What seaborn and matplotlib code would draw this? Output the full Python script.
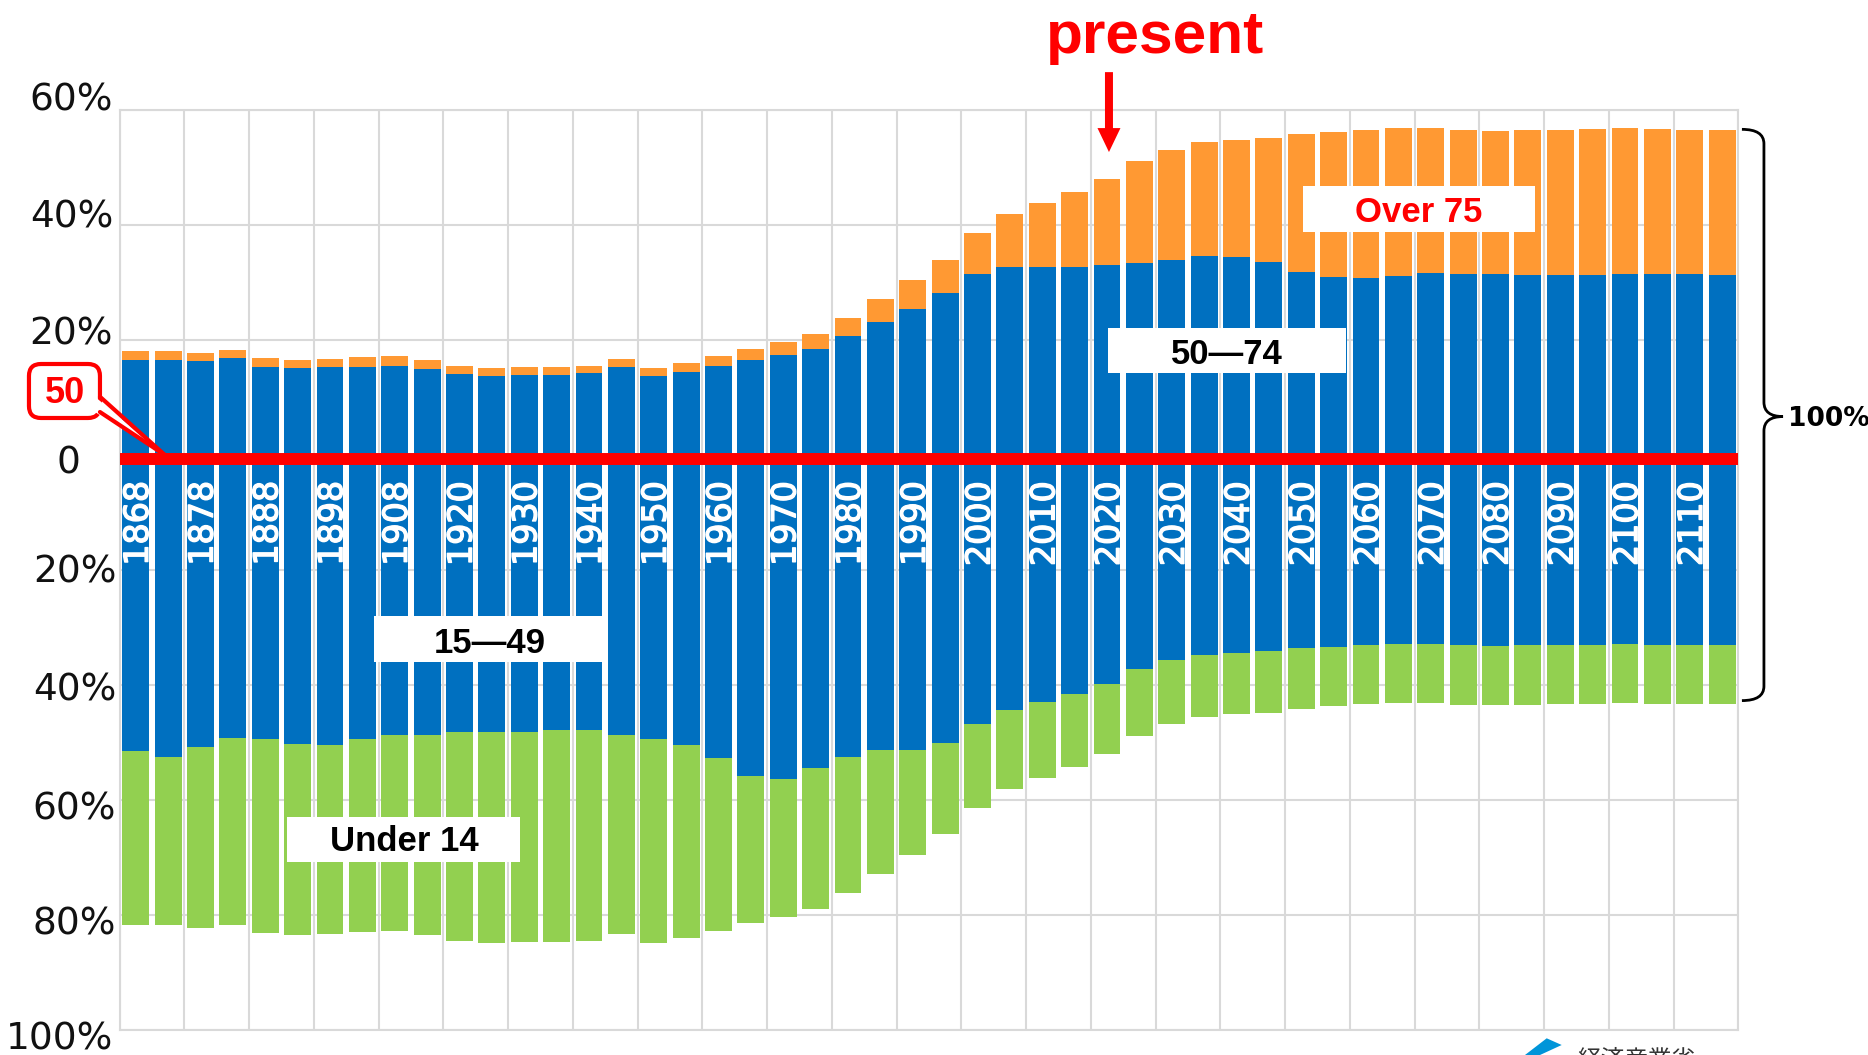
import numpy as np
import pandas as pd
import matplotlib
matplotlib.use("Agg")
import matplotlib.pyplot as plt
import matplotlib.transforms as mtransforms
import matplotlib.patheffects as pe
from matplotlib.patches import FancyBboxPatch, Polygon, Rectangle, PathPatch, FancyArrow
from matplotlib.path import Path
from matplotlib.lines import Line2D
import seaborn as sns

# ---------------- data (percent of population) ----------------
years = [1868, 1873, 1878, 1883, 1888, 1893, 1898, 1903, 1908, 1913,
         1920, 1925, 1930, 1935, 1940, 1945, 1950, 1955, 1960, 1965,
         1970, 1975, 1980, 1985, 1990, 1995, 2000, 2005, 2010, 2015,
         2020, 2025, 2030, 2035, 2040, 2045, 2050, 2055, 2060, 2065,
         2070, 2075, 2080, 2085, 2090, 2095, 2100, 2105, 2110, 2115]

age_50_74 = [16.5, 16.4, 16.2, 16.7, 15.2, 15.1, 15.2, 15.3, 15.4, 14.8,
             14.0, 13.6, 13.8, 13.8, 14.1, 15.2, 13.7, 14.4, 15.4, 16.4,
             17.3, 18.4, 20.6, 23.1, 25.3, 28.1, 31.4, 32.6, 32.6, 32.6,
             32.9, 33.3, 33.9, 34.5, 34.4, 33.5, 31.8, 30.9, 30.7, 31.1,
             31.6, 31.4, 31.4, 31.2, 31.2, 31.2, 31.4, 31.4, 31.4, 31.2]

age_over_75 = [1.5, 1.6, 1.5, 1.5, 1.5, 1.4, 1.4, 1.6, 1.7, 1.6,
               1.4, 1.5, 1.4, 1.4, 1.3, 1.4, 1.3, 1.5, 1.7, 2.0,
               2.2, 2.6, 3.1, 3.9, 5.0, 5.8, 7.1, 9.2, 11.1, 13.0,
               15.0, 17.8, 19.1, 19.8, 20.3, 21.6, 23.9, 25.2, 25.8, 25.6,
               25.1, 25.0, 24.8, 25.2, 25.3, 25.4, 25.4, 25.2, 25.1, 25.3]

age_15_49 = [51.5, 52.6, 50.9, 49.3, 49.5, 50.4, 50.5, 49.5, 48.7, 48.7,
             48.2, 48.3, 48.2, 47.9, 47.9, 48.8, 49.5, 50.6, 52.8, 55.9,
             56.4, 54.6, 52.6, 51.4, 51.4, 50.1, 46.9, 44.4, 43.1, 41.7,
             39.9, 37.3, 35.8, 34.9, 34.5, 34.2, 33.7, 33.4, 33.2, 33.0,
             33.0, 33.2, 33.3, 33.2, 33.2, 33.1, 33.0, 33.1, 33.1, 33.1]

age_under_14 = [30.4, 29.3, 31.4, 32.5, 33.8, 33.1, 32.9, 33.6, 34.2, 34.9,
                36.4, 36.6, 36.6, 36.9, 36.7, 34.6, 35.5, 33.4, 30.0, 25.6,
                24.1, 24.4, 23.6, 21.5, 18.3, 15.9, 14.5, 13.8, 13.2, 12.6,
                12.1, 11.6, 11.0, 10.8, 10.7, 10.8, 10.6, 10.4, 10.2, 10.2,
                10.3, 10.3, 10.3, 10.3, 10.2, 10.3, 10.3, 10.3, 10.3, 10.3]

year_labels = ["1868", "1878", "1888", "1898", "1908", "1920", "1930", "1940",
               "1950", "1960", "1970", "1980", "1990", "2000", "2010", "2020",
               "2030", "2040", "2050", "2060", "2070", "2080", "2090", "2100",
               "2110"]

y_gridlines = [60, 40, 20, 0, -20, -40, -60, -80, -100]
y_tick_labels = ["60%", "40%", "20%", "0", "20%", "40%", "60%", "80%", "100%"]
y_label_baselines = [59.9, 39.4, 19.1, -3.25, -22.2, -42.8, -63.4, -83.5, -103.5]
y_label_right = [-0.004, -0.004, -0.004, -0.0245, -0.002, -0.002, -0.002, -0.002, -0.004]

C_ORANGE = "#FF9933"
C_BLUE = "#0070C0"
C_GREEN = "#92D050"
C_GRID = "#D9D9D9"

# ---------------- frame ----------------
sns.set_theme(style="white")
plt.rcParams["font.family"] = ["DejaVu Sans"]
BOLD = ["Liberation Sans", "DejaVu Sans"]

fig = plt.figure(figsize=(18.68, 10.55), dpi=100)
ax = fig.add_axes([0.0640, 0.02417, 0.8666, 0.87203])

df = pd.DataFrame({
    "year": [str(y) for y in years],
    "a50_74": age_50_74,
    "over75": age_over_75,
    "a15_49": age_15_49,
    "under14": age_under_14,
})
df["above_total"] = df["a50_74"] + df["over75"]
df["below_total"] = -(df["a15_49"] + df["under14"])
df["below_blue"] = -df["a15_49"]
order = df["year"].tolist()

common = dict(data=df, x="year", order=order, width=0.83, saturation=1,
              errorbar=None, linewidth=0, ax=ax)
sns.barplot(y="above_total", color=C_ORANGE, **common)
sns.barplot(y="a50_74", color=C_BLUE, **common)
sns.barplot(y="below_total", color=C_GREEN, **common)
sns.barplot(y="below_blue", color=C_BLUE, **common)

ax.set_xlim(-0.5, len(years) - 0.5)
ax.set_ylim(-100, 60)
ax.set_xlabel("")
ax.set_ylabel("")
ax.set_xticks(np.arange(-0.5, len(years), 2))
ax.set_xticklabels([])
ax.set_yticks(y_gridlines)
ax.set_yticklabels([])
ax.tick_params(length=0)
ax.grid(True, color=C_GRID, lw=1.5)
ax.set_axisbelow(True)
for sp in ax.spines.values():
    sp.set_color(C_GRID)
    sp.set_linewidth(1.5)

# y labels
blend = mtransforms.blended_transform_factory(ax.transAxes, ax.transData)
for lab, yb, xr in zip(y_tick_labels, y_label_baselines, y_label_right):
    ax.text(xr, yb, lab, transform=blend, ha="right", va="baseline",
            fontsize=27, color="#111111", clip_on=False)

# red zero line
ax.axhline(-0.8, color="#FF0000", lw=8.6, zorder=4)

# year labels inside bars
for lab in year_labels:
    i = order.index(lab)
    ax.text(i + 0.375, -4.6, lab, rotation=90, rotation_mode="anchor",
            ha="right", va="baseline", color="white", fontsize=24, zorder=5,
            path_effects=[pe.withStroke(linewidth=1.0, foreground="white")])

# category boxes
boxes = [
    ((36.05, 38.7), 7.16, 8.0, "Over 75", 39.63, 40.43, "#FF0000"),
    ((30.02, 14.19), 7.35, 7.88, "50\u201474", 33.70, 15.74, "black"),
    ((7.36, -36.02), 7.07, 7.93, "15\u201449", 10.94, -34.47, "black"),
    ((4.67, -70.8), 7.21, 7.8, "Under 14", 8.28, -69.04, "black"),
]
for (xy, w, h, txt, tx, ty, col) in boxes:
    ax.add_patch(Rectangle(xy, w, h, facecolor="white", edgecolor="none", zorder=6))
    ax.text(tx, ty, txt, ha="center", va="baseline", fontsize=25,
            fontweight="bold", family=BOLD, color=col, zorder=7)

# "present" and arrow
ax.text(28.12, 69.8, "present", ha="left", va="baseline", color="#FF0000",
        fontsize=43.5, fontweight="bold", family=BOLD, clip_on=False, zorder=8)
ax.add_patch(FancyArrow(30.06, 66.5, 0, -(66.5 - 52.6), width=0.247,
                        head_width=0.71, head_length=4.17,
                        length_includes_head=True, color="#FF0000", lw=0,
                        clip_on=False, zorder=8))

# "50" callout
ax.add_patch(FancyBboxPatch((-3.298, 6.35), 2.193, 9.39,
                            boxstyle="round,pad=0,rounding_size=0.37",
                            mutation_aspect=32.38 / 5.75,
                            facecolor="white", edgecolor="#FF0000", lw=3,
                            clip_on=False, zorder=9))
ax.add_patch(Polygon([(-1.26, 10.05), (0.90, -0.09), (-1.26, 7.39)],
                     closed=True, facecolor="white", edgecolor="none",
                     clip_on=False, zorder=10))
for yb in (10.05, 7.39):
    ax.add_line(Line2D([-1.106, 0.90], [yb, -0.09], color="#FF0000", lw=3,
                       clip_on=False, zorder=11))
ax.text(-2.187, 8.96, "50", ha="center", va="baseline", fontsize=26,
        fontweight="bold", family=BOLD, color="#FF0000", clip_on=False, zorder=12)

# right brace "100%"
x0, xs, xp = 49.61, 50.29, 50.88
ytop, ybot, ymid, ry = 56.55, -42.8, 6.6, 2.5
verts = [(x0, ytop), (xs, ytop), (xs, ytop - ry),
         (xs, ymid + ry),
         (xs, ymid), (xp, ymid),
         (xs, ymid), (xs, ymid - ry),
         (xs, ybot + ry),
         (xs, ybot), (x0, ybot)]
codes = [Path.MOVETO, Path.CURVE3, Path.CURVE3,
         Path.LINETO,
         Path.CURVE3, Path.CURVE3,
         Path.CURVE3, Path.CURVE3,
         Path.LINETO,
         Path.CURVE3, Path.CURVE3]
ax.add_patch(PathPatch(Path(verts, codes), facecolor="none", edgecolor="black",
                       lw=2, clip_on=False, zorder=8))
ax.text(51.03, 5.0, "100%", ha="left", va="baseline", fontsize=19,
        fontweight="bold", color="black", clip_on=False)

# partial logo at bottom right (cut off as in the source image)
W, H = 1868.0, 1055.0
logo = [(1525, 1055), (1546.7, 1038.3), (1561.7, 1045), (1540, 1055)]
fig.patches.append(Polygon([(x / W, 1 - y / H) for x, y in logo], closed=True,
                           facecolor="#0095D9", edgecolor="none",
                           transform=fig.transFigure, figure=fig))
fig.text(1577 / W, 1 - 1049 / H, "経済産業省", ha="left", va="top", fontsize=17,
         color="#333333", family=["Noto Sans CJK JP", "DejaVu Sans"])

fig.savefig("out.png", dpi=100)
